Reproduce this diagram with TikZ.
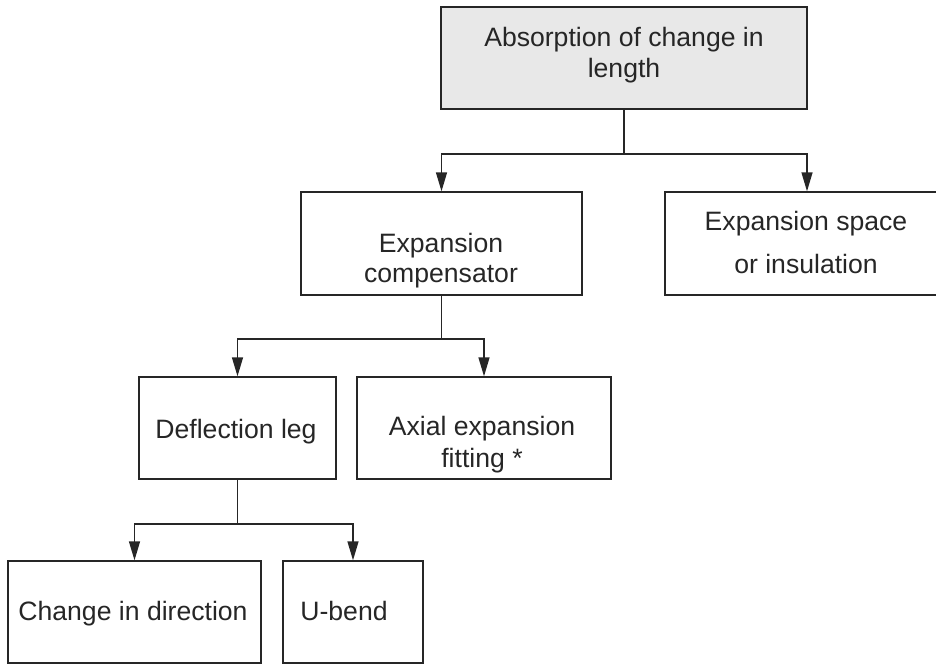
\documentclass[tikz,border=0pt]{standalone}
\usepackage{fontspec}
\setmainfont{Liberation Sans}
\usepackage{xcolor}
\usetikzlibrary{arrows.meta}
\definecolor{inkgray}{HTML}{262626}
\definecolor{rootfill}{HTML}{E8E8E8}

\begin{document}
\begin{tikzpicture}[x=0.5pt, y=-0.5pt,
    every node/.style={font=\fontsize{13.3}{16}\selectfont, text=inkgray},
    box/.style={draw=inkgray, line width=0.7pt, inner sep=0pt, minimum height=51pt},
    txt/.style={align=center, inner sep=0pt, anchor=base},
    arr/.style={draw=inkgray, line width=0.7pt, -{Triangle[length=9.5pt,width=5.5pt]}}]
  \useasboundingbox (0,0) rectangle (936,664);
  % boxes
  \node[box, fill=rootfill, minimum width=183pt] (root) at (624,58) {};
  \node[box, minimum width=140.5pt, minimum height=51.5pt] (comp) at (441.5,243.5) {};
  \node[box, minimum width=142pt, minimum height=51.5pt] (space) at (807,243.5) {};
  \node[box, minimum width=98.5pt] (defl) at (237.5,428) {};
  \node[box, minimum width=127pt] (axial) at (484,428) {};
  \node[box, minimum width=126.5pt] (change) at (134.5,612) {};
  \node[box, minimum width=70pt] (ubend) at (353,612) {};
  % texts (base = last line)
  \node[txt, font=\fontsize{13.3}{15.5}\selectfont] (rootT) at (624,77) {Absorption of change in\\length};
  \node[txt, font=\fontsize{13.3}{15}\selectfont] (compT) at (441,282) {Expansion\\compensator};
  \node[txt, font=\fontsize{13.3}{21.5}\selectfont] (spaceT) at (806,273) {Expansion space\\or insulation};
  \node[txt] (deflT) at (236,438) {Deflection leg};
  \node[txt] (axialT) at (482,467) {Axial expansion\\fitting *};
  \node[txt] (changeT) at (133,620) {Change in direction};
  \node[txt] (ubendT) at (344,620) {U-bend};
  % connectors
  \coordinate (j1) at (624,154);
  \coordinate (j2) at (441.5,339);
  \coordinate (j3) at (237.5,524);
  \draw[draw=inkgray, line width=0.7pt] (root.south) -- (j1);
  \draw[arr] (j1) -| (comp.north);
  \draw[arr] (j1) -| (space.north);
  \draw[draw=inkgray, line width=0.7pt] (comp.south) -- (j2);
  \draw[arr] (j2) -| (defl.north);
  \draw[arr] (j2) -| (axial.north);
  \draw[draw=inkgray, line width=0.7pt] (defl.south) -- (j3);
  \draw[arr] (j3) -| (change.north);
  \draw[arr] (j3) -| (ubend.north);
\end{tikzpicture}
\end{document}
